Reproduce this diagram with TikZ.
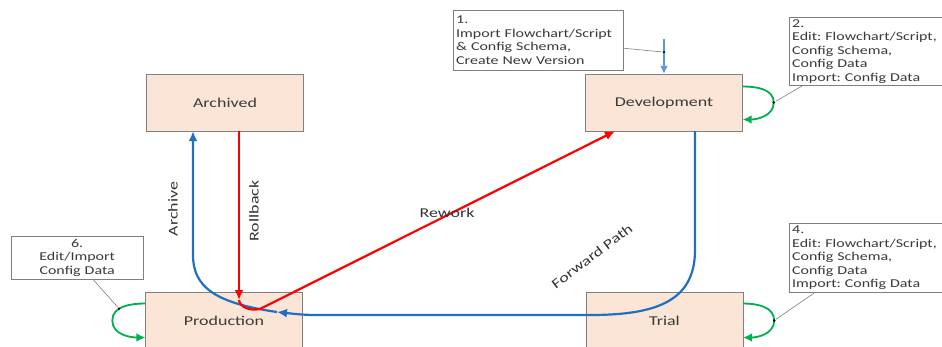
\documentclass[tikz,border=0pt]{standalone}
\usepackage{fontspec}
\setmainfont{Carlito}[FakeStretch=1.33]
\usetikzlibrary{arrows.meta,positioning,calc}
\frenchspacing
\definecolor{stFill}{HTML}{FBE5D6}
\definecolor{stEdge}{HTML}{808080}
\definecolor{stText}{HTML}{3A3A3A}
\definecolor{flowBlue}{HTML}{1F70C1}
\definecolor{feedBlue}{HTML}{5B9BD5}
\definecolor{backRed}{HTML}{FF0000}
\definecolor{selfGreen}{HTML}{00B050}
\definecolor{noteEdge}{HTML}{7F7F7F}
\tikzset{
  stbox/.style={draw=stEdge, fill=stFill, minimum width=157pt, minimum height=57pt, text=stText, font=\fontsize{13.5}{15}\selectfont},
  note/.style={draw=noteEdge, fill=white, anchor=north west, inner xsep=3pt, inner ysep=1pt, text=stText, font=\fontsize{12}{13.5}\selectfont},
  lead/.style={draw=noteEdge, line width=0.6pt},
  flow/.style={line width=2.2pt, -{Latex[length=10pt,width=9pt]}},
  self/.style={selfGreen, line width=1.8pt, -{Latex[length=9pt,width=9pt]}},
  pin/.style={circle, fill=black, inner sep=0pt, minimum size=2.6pt},
  tag/.style={text=black!80, font=\fontsize{13.5}{15}\selectfont}
}
\begin{document}
\begin{tikzpicture}[x=1pt, y=-1pt]
  \useasboundingbox (0,0) rectangle (942,346);
  \clip (0,0) rectangle (942,346);
  \foreach \x/\y/\name/\lbl in {225/102.5/archived/Archived, 664/102.5/development/Development, 224/320.5/production/Production, 664.5/320.5/trial/Trial}{
    \node[stbox] (\name) at (\x,\y) {\lbl};
  }
  \node[note, align=left, text width=164pt, minimum height=60pt] (note1) at (453,10) {1.\\Import Flowchart/Script\\\& Config Schema,\\Create New Version};
  \node[note, align=left, text width=152pt, minimum height=68pt] (note2) at (789,17) {2.\\Edit: Flowchart/Script,\\Config Schema,\\Config Data\\Import: Config Data};
  \node[note, align=left, text width=147pt, minimum height=69pt] (note4) at (789,223) {4.\\Edit: Flowchart/Script,\\Config Schema,\\Config Data\\Import: Config Data};
  \node[note, align=center, text width=126pt, minimum height=43pt] (note6) at (11,236) {6.\\Edit/Import\\Config Data};

  \coordinate (feed) at ([yshift=35pt]development.north);
  \draw[feedBlue, line width=1.6pt, -{Latex[length=8pt,width=8pt]}] (feed) -- node[pin, pos=0.38] (pin1) {} (development.north);
  \draw[lead] ([yshift=-8pt]note1.east) -- (pin1);

  \draw[self] ([yshift=16pt]development.east) to[out=0, in=90] node[pin, pos=1] (pin2) {} ([xshift=31pt]development.east) to[out=-90, in=0] ([yshift=-17pt]development.east);
  \draw[self] ([yshift=17pt]trial.east) to[out=0, in=90] node[pin, pos=1] (pin4) {} ([xshift=31pt]trial.east) to[out=-90, in=0] ([yshift=-17pt]trial.east);
  \draw[self] ([yshift=17pt]production.west) to[out=180, in=90] node[pin, pos=0.62] (pin6) {} ([xshift=-33pt]production.west) to[out=-90, in=180] ([yshift=-17pt]production.west);
  \draw[lead] ([xshift=14pt]note2.south west) -- (pin2);
  \draw[lead] ([xshift=26pt]note4.south west) -- (pin4);
  \draw[lead] ([xshift=82pt]note6.south west) -- (pin6);

  \coordinate (fwd) at ([xshift=31pt]development.south);
  \coordinate (turn) at (277,312);
  \coordinate (arc) at ([xshift=-32pt]archived.south);
  \draw[flow, flowBlue] (fwd) -- (695,250) .. controls (695,302) and (655,315) .. (590,315) -- (330,315) .. controls (305,315) .. (turn);
  \draw[flow, flowBlue] (turn) .. controls (215,303) and (193,287) .. (193,255) -- (arc);

  \coordinate (rb) at ([xshift=14pt]archived.south);
  \coordinate (dip) at (239,300);
  \draw[flow, backRed] (rb) -- (dip);
  \draw[flow, backRed] (dip) .. controls (240,307) and (249,311) .. (260,309) -- ([xshift=-49pt]development.south);

  \node[tag] (rework) at (447,213) {Rework};
  \node[tag, rotate=37] (fwdtag) at (592,256) {Forward Path};
  \node[tag, rotate=90] (archtag) at (173,209) {Archive};
  \node[tag, rotate=90] (rolltag) at (254,211) {Rollback};
\end{tikzpicture}
\end{document}
